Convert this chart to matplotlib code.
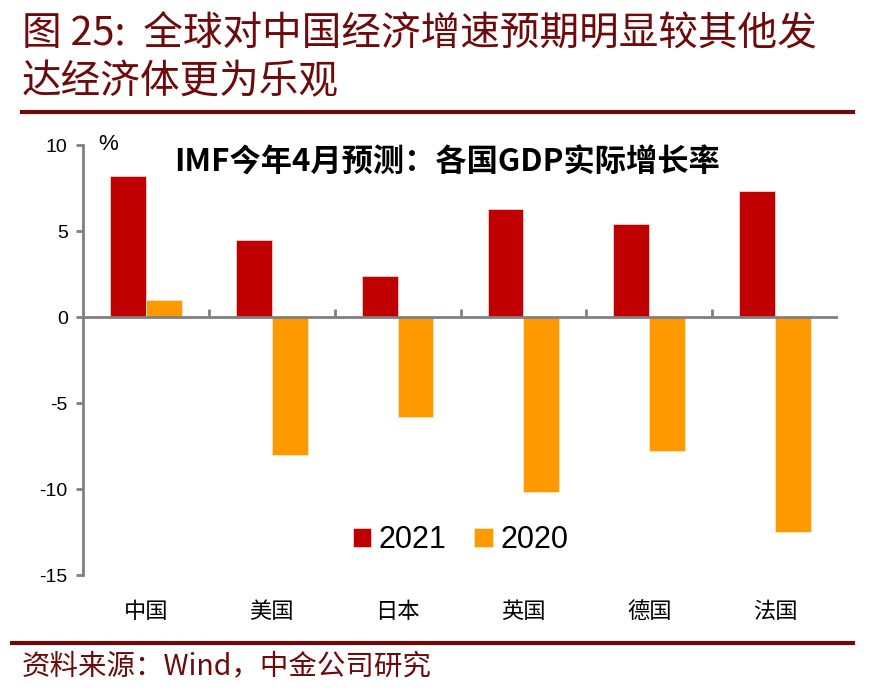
import numpy as np
import matplotlib.pyplot as plt
from matplotlib.lines import Line2D

plt.rcParams['font.family'] = ['Noto Sans CJK SC', 'DejaVu Sans']

# Data
countries = ['中国', '美国', '日本', '英国', '德国', '法国']
g2021 = [8.2, 4.5, 2.4, 6.3, 5.4, 7.3]
g2020 = [1.0, -8.0, -5.8, -10.2, -7.8, -12.5]
yticks = [10, 5, 0, -5, -10, -15]

dark_red = '#6E0A0A'
gray = '#808080'
latin = ['Liberation Sans', 'DejaVu Sans']

fig = plt.figure(figsize=(8.73, 6.97), dpi=100)
ax = fig.add_axes([83/873, 1-575/697, (838-83)/873, (575-145)/697])

x = np.arange(len(countries))
w = 0.285
ax.bar(x - w/2, g2021, w, color='#C00000', edgecolor='#F4D0D0', linewidth=0.6, label='2021', zorder=3)
ax.bar(x + w/2, g2020, w, color='#FF9900', edgecolor='#FFE6C0', linewidth=0.6, label='2020', zorder=3)

ax.set_xlim(-0.5, len(countries) - 0.5)
ax.set_ylim(-15, 10)
ax.set_yticks(yticks)
ax.set_yticklabels([str(v) for v in yticks], fontsize=14, family=latin)
ax.tick_params(axis='y', length=5, width=2, color=gray, pad=6)

# zero line with category boundary ticks
ax.axhline(0, color=gray, lw=2, zorder=4)
for b in np.arange(0.5, len(countries) - 0.5, 1):
    ax.plot([b, b], [0, 0.45], color=gray, lw=2, zorder=4, solid_capstyle='butt')

ax.set_xticks(x)
ax.set_xticklabels(countries, fontsize=16)
ax.tick_params(axis='x', length=0, pad=18)

for s in ['top', 'right', 'bottom']:
    ax.spines[s].set_visible(False)
ax.spines['left'].set_color(gray)
ax.spines['left'].set_linewidth(2)

ax.text(0.02, 1.0, '%', transform=ax.transAxes, fontsize=16, va='center', ha='left', family=latin)
ax.text(0.482, 0.958, 'IMF今年4月预测：各国GDP实际增长率', transform=ax.transAxes,
        fontsize=22.5, fontweight='bold', ha='center', va='center')

ax.legend(loc='center', bbox_to_anchor=(0.5, 0.081), ncol=2, frameon=False,
          handlelength=0.6, handleheight=0.6, handletextpad=0.25,
          columnspacing=0.9, prop={'family': latin, 'size': 22})

# title and decorations
fig.text(22/873, 1-35/697, '图 25:  全球对中国经济增速预期明显较其他发', fontsize=28.5,
         color=dark_red, style='italic', va='center', ha='left')
fig.text(22/873, 1-82/697, '达经济体更为乐观', fontsize=28.5,
         color=dark_red, style='italic', va='center', ha='left')
fig.add_artist(Line2D([22/873, 853/873], [1-112/697, 1-112/697], color=dark_red, lw=3))
fig.add_artist(Line2D([12/873, 853/873], [1-643/697, 1-643/697], color=dark_red, lw=3))
fig.text(22/873, 1-666/697, '资料来源：Wind，中金公司研究', fontsize=20.5,
         color=dark_red, style='italic', va='center', ha='left')

fig.savefig('out.png', dpi=100)
